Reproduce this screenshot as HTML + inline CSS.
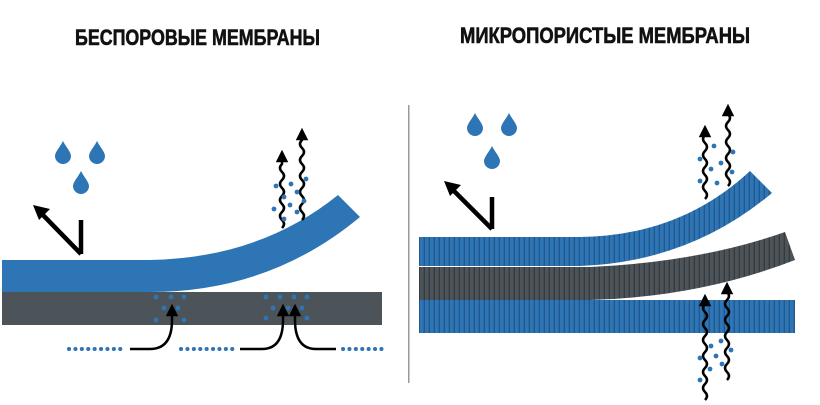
<!DOCTYPE html>
<html><head><meta charset="utf-8"><style>html,body{margin:0;padding:0;background:#fff}svg{display:block}</style></head>
<body>
<svg width="820" height="405" viewBox="0 0 820 405" xmlns="http://www.w3.org/2000/svg">
<defs>
<pattern id="sb" width="5" height="10" patternUnits="userSpaceOnUse"><rect width="5" height="10" fill="#2e75b6"/><rect x="3.6" width="1.4" height="10" fill="#22588d"/></pattern>
<pattern id="sg" width="5" height="10" patternUnits="userSpaceOnUse"><rect width="5" height="10" fill="#4d5459"/><rect x="3.6" width="1.4" height="10" fill="#363b3f"/></pattern>
<marker id="ah" viewBox="0 0 10 10" refX="5" refY="5" markerWidth="5" markerHeight="5" orient="auto"><path d="M0,0 L10,5 L0,10 z" fill="#000"/></marker>
<path id="drop" d="M0,-11 C3,-5 8,0 8,4 A8,8 0 0 1 -8,4 C-8,0 -3,-5 0,-11 z" fill="#2e75b6"/>
</defs>
<g font-family="Liberation Sans, sans-serif" font-weight="bold" fill="#111">
<text x="75" y="45" font-size="22" textLength="245" lengthAdjust="spacingAndGlyphs" stroke="#111" stroke-width="0.6">БЕСПОРОВЫЕ МЕМБРАНЫ</text>
<text x="460" y="43" font-size="22" textLength="290" lengthAdjust="spacingAndGlyphs" stroke="#111" stroke-width="0.6">МИКРОПОРИСТЫЕ МЕМБРАНЫ</text>
</g>
<!-- left panel -->
<rect x="2" y="292" width="380" height="33" fill="#4d5459"/>
<path d="M2,260 L150,260 Q260,258 338,195 L360,217 Q270,292 150,292 L2,292 z" fill="#2e75b6"/>
<use href="#drop" x="63" y="152"/><use href="#drop" x="97" y="152"/><use href="#drop" x="81" y="182"/>
<path d="M81,254 L81,220 M81,254 L40,212" stroke="#000" stroke-width="4.5" fill="none"/>
<path d="M33,205 L50,209 L39,220 z" fill="#000"/>
<g stroke="#000" stroke-width="2.5" fill="none" marker-end="url(#ah)">
<path d="M282,228 q4,-4 0,-8 q-4,-4 0,-8 q4,-4 0,-8 q-4,-4 0,-8 q4,-4 0,-8 q-4,-4 0,-8 q4,-4 0,-8 q-4,-4 0,-8 l0,-8"/>
<path d="M302,220 q4,-4 0,-8 q-4,-4 0,-8 q4,-4 0,-8 q-4,-4 0,-8 q4,-4 0,-8 q-4,-4 0,-8 q4,-4 0,-8 q-4,-4 0,-8 q4,-4 0,-8 q-4,-4 0,-8 l0,-6"/>
<path d="M130,349 L150,349 Q172,349 172,320 L172,310"/>
<path d="M240,349 L262,349 Q283,349 283,320 L283,310"/>
<path d="M336,349 L316,349 Q295,349 295,320 L295,310"/>
</g>
<g fill="#2e75b6">
<circle cx="276" cy="186" r="2.4"/><circle cx="291" cy="184" r="2.4"/><circle cx="306" cy="179" r="2.4"/><circle cx="284" cy="197" r="2.4"/><circle cx="297" cy="192" r="2.4"/><circle cx="304" cy="201" r="2.4"/><circle cx="274" cy="209" r="2.4"/><circle cx="290" cy="205" r="2.4"/><circle cx="284" cy="219" r="2.4"/><circle cx="297" cy="212" r="2.4"/>
<circle cx="156" cy="297" r="2.4"/><circle cx="171" cy="297" r="2.4"/><circle cx="184" cy="297" r="2.4"/><circle cx="164" cy="308" r="2.4"/><circle cx="178" cy="308" r="2.4"/><circle cx="156" cy="320" r="2.4"/><circle cx="184" cy="320" r="2.4"/>
<circle cx="266" cy="297" r="2.4"/><circle cx="280" cy="297" r="2.4"/><circle cx="294" cy="297" r="2.4"/><circle cx="307" cy="297" r="2.4"/><circle cx="273" cy="308" r="2.4"/><circle cx="288" cy="308" r="2.4"/><circle cx="302" cy="308" r="2.4"/><circle cx="266" cy="318" r="2.4"/><circle cx="307" cy="318" r="2.4"/>
</g>
<g stroke="#2e75b6" stroke-width="4" stroke-dasharray="0.1 6.3" stroke-linecap="round">
<path d="M69,349 L125,349"/><path d="M181,349 L237,349"/><path d="M343,349 L382,349"/>
</g>
<!-- divider -->
<rect x="408" y="105" width="1.5" height="278" fill="#999"/>
<!-- right panel -->
<rect x="419" y="300" width="376" height="33" fill="url(#sb)"/>
<path d="M419,267 L590,267 Q700,262 785,232 L795,260 Q700,297 590,300 L419,300 z" fill="url(#sg)"/>
<path d="M419,237 L580,237 Q680,236 750,171 L772,193 Q690,262 580,266 L419,266 z" fill="url(#sb)"/>
<use href="#drop" x="475" y="124"/><use href="#drop" x="509" y="124"/><use href="#drop" x="492" y="157"/>
<path d="M492,229 L492,197 M492,229 L452,189" stroke="#000" stroke-width="4.5" fill="none"/>
<path d="M444,181 L461,185 L450,196 z" fill="#000"/>
<g stroke="#000" stroke-width="2.5" fill="none" marker-end="url(#ah)">
<path d="M705,199 q4,-4 0,-8 q-4,-4 0,-8 q4,-4 0,-8 q-4,-4 0,-8 q4,-4 0,-8 q-4,-4 0,-8 q4,-4 0,-8 q-4,-4 0,-8 l0,-4"/>
<path d="M728,186 q4,-4 0,-8 q-4,-4 0,-8 q4,-4 0,-8 q-4,-4 0,-8 q4,-4 0,-8 q-4,-4 0,-8 q4,-4 0,-8 q-4,-4 0,-8 q4,-4 0,-8 l0,-4"/>
<path d="M705,400 q4,-4 0,-8 q-4,-4 0,-8 q4,-4 0,-8 q-4,-4 0,-8 q4,-4 0,-8 q-4,-4 0,-8 q4,-4 0,-8 q-4,-4 0,-8 q4,-4 0,-8 q-4,-4 0,-8 q4,-4 0,-8 q-4,-4 0,-8 l0,-4"/>
<path d="M727,380 q4,-4 0,-8 q-4,-4 0,-8 q4,-4 0,-8 q-4,-4 0,-8 q4,-4 0,-8 q-4,-4 0,-8 q4,-4 0,-8 q-4,-4 0,-8 q4,-4 0,-8 q-4,-4 0,-8 q4,-4 0,-8 l0,-4"/>
</g>
<g fill="#2e75b6">
<circle cx="714" cy="146" r="2.4"/><circle cx="733" cy="152" r="2.4"/><circle cx="700" cy="159" r="2.4"/><circle cx="721" cy="163" r="2.4"/><circle cx="711" cy="169" r="2.4"/><circle cx="732" cy="172" r="2.4"/><circle cx="700" cy="181" r="2.4"/><circle cx="717" cy="183" r="2.4"/>
<circle cx="721" cy="341" r="2.4"/><circle cx="711" cy="346" r="2.4"/><circle cx="731" cy="350" r="2.4"/><circle cx="700" cy="358" r="2.4"/><circle cx="716" cy="356" r="2.4"/><circle cx="722" cy="364" r="2.4"/><circle cx="710" cy="369" r="2.4"/><circle cx="700" cy="380" r="2.4"/>
</g>
</svg>
</body></html>
